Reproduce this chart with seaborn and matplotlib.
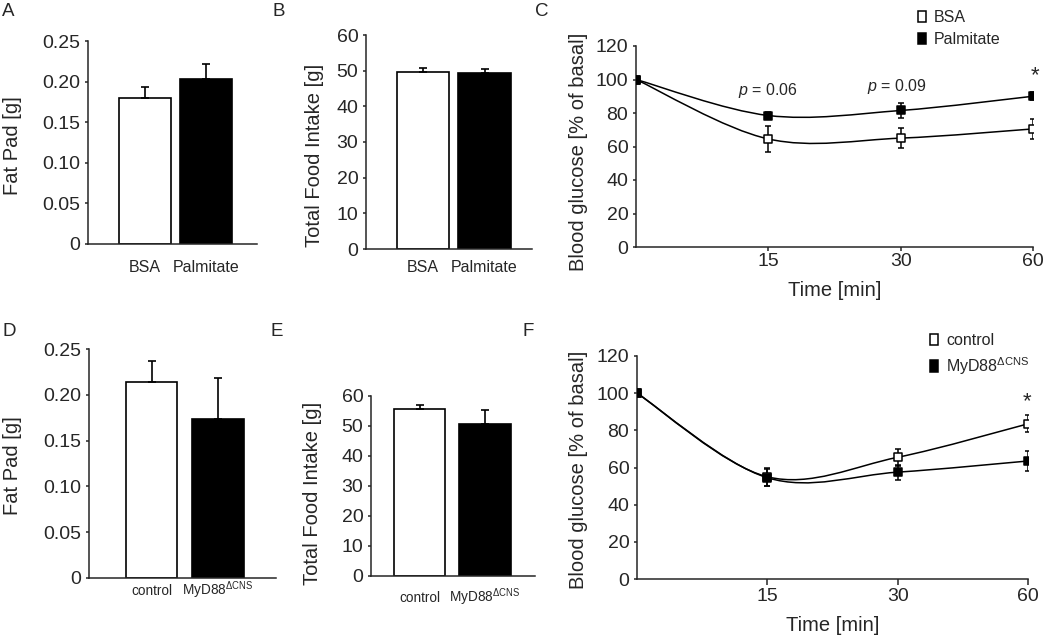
import numpy as np
import matplotlib
matplotlib.use("Agg")
import matplotlib.pyplot as plt
from matplotlib.path import Path
from matplotlib.patches import PathPatch, Patch
import seaborn as sns

# ---- data ----
groups_top = ["BSA", "Palmitate"]
groups_bottom = ["control", r"MyD88$^{\mathregular{\Delta CNS}}$"]

fatpad_top = [0.180, 0.203]
fatpad_top_err = [0.013, 0.019]
food_top = [49.5, 49.3]
food_top_err = [1.2, 1.1]

fatpad_bottom = [0.214, 0.174]
fatpad_bottom_err = [0.023, 0.044]
food_bottom = [55.6, 50.8]
food_bottom_err = [1.4, 4.4]

time_min = [0, 15, 30, 60]
bsa_glc = [100, 64.5, 65, 70.5]
bsa_glc_err = [0, 8, 6, 6]
palm_glc = [100, 78.5, 81.5, 90]
palm_glc_err = [0, 2, 4.5, 2.5]
ctrl_glc = [100, 55, 65.5, 83.5]
ctrl_glc_err = [0, 5, 4.5, 4.5]
myd_glc = [100, 54.5, 57.5, 63.5]
myd_glc_err = [0, 4.5, 4, 5.5]

fat_ticks = [0, 0.05, 0.10, 0.15, 0.20, 0.25]
fat_ticklabels = ["0", "0.05", "0.10", "0.15", "0.20", "0.25"]
food_ticks = [0, 10, 20, 30, 40, 50, 60]
glc_ticks = [0, 20, 40, 60, 80, 100, 120]

sns.set_style("ticks")
plt.rcParams["font.family"] = ["Liberation Sans", "DejaVu Sans"]
plt.rcParams["mathtext.fontset"] = "custom"
plt.rcParams["mathtext.rm"] = "Liberation Sans"
plt.rcParams["mathtext.it"] = "Liberation Sans:italic"
plt.rcParams["axes.linewidth"] = 1.1

W, H = 1050, 640
fig = plt.figure(figsize=(W / 100, H / 100), dpi=100)

TICK_FS = 14
LABEL_FS = 14.5


def box(x0, y0, x1, y1):
    # pixel box -> figure fraction rect
    return [x0 / W, 1 - y1 / H, (x1 - x0) / W, (y1 - y0) / H]


def ftext(x, y, s, **kw):
    fig.text(x / W, 1 - y / H, s, **kw)


def bar_panel(rect, labels, vals, errs, ticks, ticklabels, width, xlim, pad, xfs):
    ax = fig.add_axes(rect)
    sns.barplot(x=labels, y=vals, hue=labels, palette=["white", "black"],
                edgecolor="black", linewidth=1.2, width=width, legend=False, ax=ax)
    ax.errorbar(range(len(vals)), vals, yerr=[np.zeros(len(errs)), errs], fmt="none",
                ecolor="black", elinewidth=1.2, capsize=3, capthick=1.2)
    ax.set_ylim(ticks[0], ticks[-1])
    ax.set_yticks(ticks, labels=ticklabels)
    ax.set_xlim(*xlim)
    ax.set_xticks(range(len(labels)), labels=labels)
    ax.tick_params(axis="y", labelsize=TICK_FS, length=2.5, width=1.1, pad=3)
    ax.tick_params(axis="x", labelsize=xfs, length=0, pad=pad)
    for t in ax.get_xticklabels():
        t.set_verticalalignment("baseline")
    ax.set_xlabel("")
    ax.set_ylabel("")
    sns.despine(ax=ax)
    return ax


def smooth_curve(ax, xs, ys):
    # Catmull-Rom style bezier through the data points (like a smoothed line)
    pts = np.column_stack([xs, ys]).astype(float)
    n = len(pts)
    verts = [pts[0]]
    codes = [Path.MOVETO]
    for i in range(n - 1):
        p0 = pts[max(i - 1, 0)]
        p1 = pts[i]
        p2 = pts[i + 1]
        p3 = pts[min(i + 2, n - 1)]
        verts += [p1 + (p2 - p0) / 6, p2 - (p3 - p1) / 6, p2]
        codes += [Path.CURVE4] * 3
    ax.add_patch(PathPatch(Path(verts, codes), facecolor="none",
                           edgecolor="black", lw=1.1, zorder=2))


def line_panel(rect, series, tick_len, tick_pad, xlabel_y):
    ax = fig.add_axes(rect)
    pos = np.arange(len(time_min))
    for vals, errs, face in series:
        smooth_curve(ax, pos, vals)
        ax.errorbar(pos, vals, yerr=errs, fmt="none", ecolor="black",
                    elinewidth=1.1, capsize=2.5, capthick=1.1, zorder=3)
        sns.scatterplot(x=pos, y=vals, marker="s", s=34, color=face,
                        edgecolor="black", linewidth=1.1, ax=ax, zorder=4, legend=False)
    ax.set_xlim(0, len(time_min) - 1)
    ax.set_ylim(0, 120)
    ax.set_yticks(glc_ticks)
    ax.set_xticks(pos[1:], labels=[str(t) for t in time_min[1:]])
    ax.tick_params(axis="y", labelsize=TICK_FS, length=2.5, width=1.1, pad=3)
    ax.tick_params(axis="x", labelsize=TICK_FS, length=tick_len, width=1.1, pad=tick_pad)
    ax.set_xlabel("Time [min]", fontsize=LABEL_FS)
    ax.xaxis.set_label_coords(0.5, xlabel_y)
    ax.set_ylabel("")
    sns.despine(ax=ax)
    return ax


# ---- top row ----
bar_panel(box(88, 41, 257, 244), groups_top, fatpad_top, fatpad_top_err,
          fat_ticks, fat_ticklabels, 0.85, (-0.934, 1.836), 20, 11.5)
bar_panel(box(366, 35, 532, 249), groups_top, food_top, food_top_err,
          food_ticks, [str(t) for t in food_ticks], 0.85, (-0.927, 1.77), 16.5, 11.5)
axC = line_panel(box(636, 46, 1033, 247),
                 [(bsa_glc, bsa_glc_err, "white"), (palm_glc, palm_glc_err, "black")],
                 3, 1.5, -0.17)

# ---- bottom row ----
bar_panel(box(89, 349, 276, 578), groups_bottom, fatpad_bottom, fatpad_bottom_err,
          fat_ticks, fat_ticklabels, 0.77, (-0.94, 1.87), 12, 9.8)
bar_panel(box(371, 396, 535, 576), groups_bottom, food_bottom, food_bottom_err,
          food_ticks, [str(t) for t in food_ticks], 0.79, (-0.74, 1.76), 18.5, 9.8)
axF = line_panel(box(637, 356, 1028, 579),
                 [(ctrl_glc, ctrl_glc_err, "white"), (myd_glc, myd_glc_err, "black")],
                 4.5, 2, -0.165)

# y labels
ylab = dict(rotation=90, ha="center", va="center", fontsize=LABEL_FS)
ftext(13, 146, "Fat Pad [g]", **ylab)
ftext(315, 155, "Total Food Intake [g]", **ylab)
ftext(578, 152, "Blood glucose [% of basal]", **ylab)
ftext(13, 466, "Fat Pad [g]", **ylab)
ftext(313, 493, "Total Food Intake [g]", **ylab)
ftext(578, 470, "Blood glucose [% of basal]", **ylab)

# panel letters
for lx, ly, s in [(2, 12, "A"), (273, 12, "B"), (535, 12, "C"),
                  (2, 332, "D"), (270, 332, "E"), (523, 332, "F")]:
    ftext(lx, ly, s, fontsize=13.5, ha="left", va="center")

# annotations
ftext(768, 90, r"$\it{p}$ = 0.06", fontsize=11.5, ha="center", va="center")
ftext(897, 86, r"$\it{p}$ = 0.09", fontsize=11.5, ha="center", va="center")
ftext(1035, 76, "*", fontsize=16, ha="center", va="center")
ftext(1027, 402, "*", fontsize=16, ha="center", va="center")


# legends
def add_legend(ax, labels, x, y):
    handles = [Patch(facecolor="white", edgecolor="black", lw=1.1),
               Patch(facecolor="black", edgecolor="black", lw=1.1)]
    ax.legend(handles, labels, loc="upper left", bbox_to_anchor=(x / W, 1 - y / H),
              bbox_transform=fig.transFigure, frameon=False, fontsize=11.5,
              handlelength=0.5, handleheight=0.75, handletextpad=0.5,
              labelspacing=0.45, borderpad=0, borderaxespad=0)


add_legend(axC, groups_top, 918, 10)
add_legend(axF, groups_bottom, 930, 333)

fig.savefig("out.png", dpi=100)
